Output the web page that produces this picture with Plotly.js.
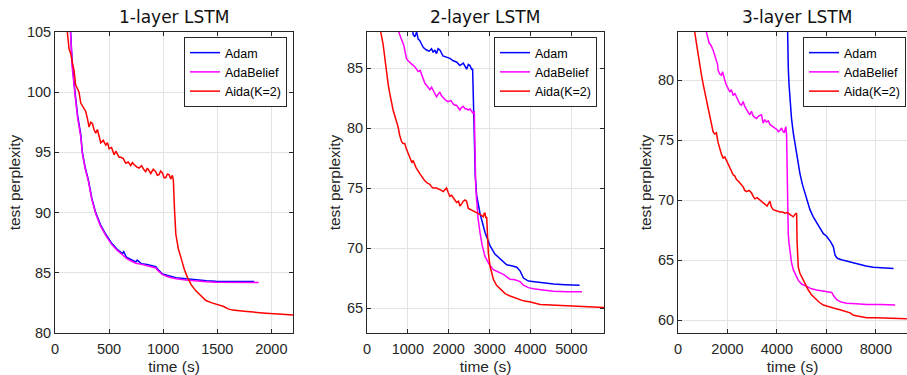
<!DOCTYPE html>
<html>
<head>
<meta charset="utf-8">
<script src="https://cdn.plot.ly/plotly-3.0.1.min.js"></script>
<style>html,body{margin:0;padding:0;background:#fff;}#chart{width:907px;height:375px;}</style>
</head>
<body>
<div id="chart"></div>
<script>
// ---------- Panel 1: 1-layer LSTM ----------
const adam1_x = [115,140,160,185,210,238,253,280,309,340,376,420,469,520,570,623,635,660,700,747,760,800,850,900,932,950,994,1050,1120,1210,1300,1400,1487,1600,1700,1842];
const adam1_y = [110,105,102.3,100,98,96.5,95,93.7,92.7,91.2,90,89,88.2,87.5,87.0,86.6,86.75,86.3,86.1,85.9,86.05,85.75,85.7,85.55,85.5,85.3,84.9,84.75,84.6,84.5,84.4,84.35,84.3,84.3,84.28,84.28];
const adab1_x = [115,140,160,185,210,238,253,280,309,340,376,420,469,520,570,623,660,700,747,800,850,900,932,950,994,1050,1120,1210,1300,1400,1487,1600,1700,1800,1882];
const adab1_y = [110,104.8,102,99.8,97.8,96.3,94.9,93.6,92.6,91.1,89.9,88.9,88.1,87.4,86.9,86.5,86.2,86.0,85.8,85.7,85.6,85.45,85.4,85.2,84.85,84.65,84.5,84.4,84.3,84.25,84.22,84.2,84.2,84.18,84.2];
const aida1_x = [105,114,130,145,160,176,191,222,238,260,284,300,315,330,346,360,376,392,407,423,446,469,485,500,523,546,562,577,592,608,630,654,677,700,715,731,754,777,800,823,838,854,870,885,908,931,946,962,977,993,1008,1023,1039,1054,1070,1085,1094,1098,1105,1117,1140,1163,1195,1225,1260,1302,1350,1395,1450,1518,1560,1600,1642,1750,1850,1950,2100,2200];
const aida1_y = [107,105,103.6,103.2,102.5,101.8,100.6,100.0,99.1,98.8,98.4,97.8,97.1,97.5,97.4,96.9,96.6,96.9,96.3,95.8,96.0,95.6,95.8,95.3,95.4,94.8,95.1,94.9,94.6,94.6,94.5,94.1,94.2,93.9,94.15,94.0,93.8,93.7,93.9,93.55,93.4,93.7,93.5,93.25,93.6,93.4,93.1,93.15,93.45,93.3,92.9,92.9,93.2,93.15,92.8,93.1,92.7,91.5,90.2,88.2,87.0,86.3,85.3,84.6,84.0,83.5,83.1,82.7,82.5,82.3,82.2,82.0,81.9,81.8,81.7,81.65,81.55,81.5];

// ---------- Panel 2: 2-layer LSTM ----------
const adam2_x = [1100,1129,1170,1215,1252,1290,1333,1380,1456,1520,1579,1620,1660,1701,1740,1783,1860,1947,2030,2110,2190,2274,2356,2438,2480,2519,2560,2585,2601,2618,2650,2683,2765,2888,3010,3130,3256,3419,3560,3665,3746,3828,3950,4074,4300,4564,4850,5203];
const adam2_y = [89,87.8,87.6,88.0,87.4,87.3,87.0,86.7,86.5,86.4,86.6,86.3,86.5,86.2,86.6,86.5,86.0,85.9,85.8,85.6,85.5,85.2,85.4,84.9,85.3,85.2,84.9,84.9,82.0,78.5,76.0,74.4,72.9,71.3,70.2,69.5,69.1,68.6,68.5,68.4,68.1,67.5,67.25,67.2,67.1,67.0,66.95,66.9];
const adab2_x = [760,777,843,900,924,965,1006,1047,1100,1170,1210,1252,1300,1374,1420,1497,1540,1580,1620,1660,1701,1740,1783,1820,1865,1930,1988,2050,2110,2150,2192,2240,2274,2310,2356,2400,2438,2479,2520,2560,2601,2626,2642,2660,2683,2720,2765,2820,2888,2980,3092,3200,3337,3501,3620,3746,3828,3950,4074,4300,4564,4900,5260];
const adab2_y = [89,88,87.4,86.9,86.5,85.8,85.6,85.5,85.3,85.1,84.9,84.7,84.8,84.0,83.7,83.4,83.2,83.4,83.1,82.9,82.6,82.8,83.0,82.7,82.5,82.3,82.2,82.3,82.0,81.9,81.9,81.6,81.5,81.7,81.8,81.6,81.6,81.5,81.6,81.4,81.2,81.4,76.8,75.2,74.0,72.4,71.3,70.2,69.3,68.7,68.2,68.0,67.8,67.4,67.35,67.2,66.9,66.7,66.6,66.5,66.4,66.35,66.35];
const aida2_x = [320,335,393,440,474,520,556,600,638,700,761,800,843,880,924,960,1006,1060,1100,1129,1160,1200,1292,1350,1415,1480,1538,1580,1620,1700,1783,1820,1865,1900,1947,1990,2029,2070,2110,2150,2192,2240,2274,2320,2356,2400,2438,2479,2540,2601,2680,2765,2810,2847,2870,2888,2910,2929,2950,2970,3010,3050,3092,3170,3256,3380,3501,3650,3828,4000,4237,4500,4892,5300,5800];
const aida2_y = [89,88,87.0,85.6,84.5,83.6,82.9,82.1,81.5,80.8,80.1,79.4,78.9,78.7,78.7,78.3,77.9,77.5,77.1,77.3,77.0,76.7,76.2,75.9,75.6,75.4,75.3,75.1,75.0,75.0,74.9,74.8,74.7,74.8,75.0,74.6,74.3,74.4,74.2,74.0,73.8,73.9,73.5,73.7,73.9,74.0,73.9,73.3,73.2,73.1,73.0,72.8,72.7,72.6,72.9,72.9,72.5,72.6,71.0,69.6,68.5,67.9,67.4,66.9,66.6,66.2,66.0,65.8,65.6,65.5,65.3,65.25,65.2,65.1,65.05];

// ---------- Panel 3: 3-layer LSTM ----------
const adam3_x = [4400,4418,4440,4458,4490,4526,4590,4661,4730,4796,4860,4931,5030,5134,5230,5336,5470,5607,5740,5877,6000,6080,6180,6282,6320,6350,6420,6485,6650,6823,7100,7363,7600,7903,8300,8714];
const adam3_y = [88,84,82.3,81.1,79.6,78.3,76.8,75.6,74.7,73.9,73.0,72.2,71.3,70.6,69.8,69.2,68.6,68.1,67.6,67.2,67.0,66.8,66.5,66.1,65.8,65.4,65.2,65.1,65.0,64.9,64.75,64.6,64.5,64.4,64.35,64.3];
const adab3_x = [1100,1148,1256,1330,1418,1480,1554,1600,1621,1690,1756,1800,1891,1950,2026,2100,2161,2230,2297,2360,2432,2500,2567,2634,2700,2769,2840,2905,2970,3040,3175,3260,3378,3445,3510,3580,3650,3715,3800,3918,3990,4053,4120,4188,4250,4296,4330,4364,4391,4405,4418,4440,4458,4490,4526,4590,4661,4760,4864,5000,5201,5400,5607,5800,6012,6100,6215,6300,6417,6600,6823,7200,7633,8200,8782];
const adab3_y = [86,84,83.1,82.9,82.5,82.1,81.7,81.3,80.8,80.5,80.4,80.7,80.0,79.6,79.3,79.0,79.2,78.7,78.9,78.6,78.3,78.0,77.9,78.2,77.8,77.5,77.3,77.1,77.4,77.0,76.8,77.0,77.1,76.4,76.7,76.5,76.6,76.3,76.2,76.0,75.9,75.7,75.8,76.0,75.7,75.6,75.9,76.1,75.4,72.5,70.0,68.4,67.2,66.4,65.6,64.8,64.2,63.7,63.3,63.0,62.8,62.6,62.5,62.45,62.4,62.35,62.3,62.0,61.7,61.5,61.4,61.35,61.3,61.3,61.25];
const aida3_x = [640,676,743,810,878,950,1013,1080,1148,1215,1283,1350,1418,1480,1554,1620,1689,1760,1824,1890,1959,2030,2094,2160,2229,2300,2364,2430,2499,2570,2634,2700,2769,2870,2972,3040,3107,3200,3310,3410,3513,3600,3715,3780,3850,3980,4121,4220,4323,4420,4526,4600,4661,4730,4796,4815,4837,4864,4931,5000,5066,5170,5269,5400,5539,5700,5877,6080,6282,6550,6823,6960,7093,7350,7633,8000,8500,9254];
const aida3_y = [86,84,83.1,82.1,81.1,80.4,79.7,79.0,78.3,77.7,77.1,76.4,75.7,75.5,75.6,74.8,74.2,73.8,73.5,73.6,73.3,73.0,72.8,72.4,72.1,72.0,71.7,71.6,71.4,71.2,71.1,70.8,70.7,70.8,70.6,70.3,70.1,70.2,70.0,69.8,69.6,69.5,69.9,69.4,69.2,69.1,69.0,69.0,68.9,68.95,68.8,68.7,68.6,68.8,68.9,66.5,65.0,64.4,63.9,63.6,63.3,62.9,62.5,62.1,61.8,61.5,61.25,61.1,61.0,60.85,60.7,60.6,60.4,60.3,60.2,60.2,60.15,60.1];

// ---------- labels ----------
const titles = ['1-layer LSTM', '2-layer LSTM', '3-layer LSTM'];
const seriesNames = ['Adam', 'AdaBelief', 'Aida(K=2)'];
const xTicks1 = [0, 500, 1000, 1500, 2000];
const yTicks1 = [80, 85, 90, 95, 100, 105];
const xTicks2 = [0, 1000, 2000, 3000, 4000, 5000];
const yTicks2 = [65, 70, 75, 80, 85];
const xTicks3 = [0, 2000, 4000, 6000, 8000];
const yTicks3 = [60, 65, 70, 75, 80];
const xLabel = 'time (s)';
const yLabel = 'test perplexity';

const colors = ['#0000ff', '#ff00ff', '#ff0000'];
const W = 907, H = 375;
const panels = [
  {xs:[adam1_x, adab1_x, aida1_x], ys:[adam1_y, adab1_y, aida1_y], xr:[0,2200], yr:[80,105], xt:xTicks1, yt:yTicks1, px:[55,293], leg:'legend', legX:287},
  {xs:[adam2_x, adab2_x, aida2_x], ys:[adam2_y, adab2_y, aida2_y], xr:[0,5800], yr:[62.92,88], xt:xTicks2, yt:yTicks2, px:[367,604], leg:'legend2', legX:597},
  {xs:[adam3_x, adab3_x, aida3_x], ys:[adam3_y, adab3_y, aida3_y], xr:[0,9260], yr:[58.92,84], xt:xTicks3, yt:yTicks3, px:[678,907], leg:'legend3', legX:906}
];

const font = 'Liberation Sans, Arial, sans-serif';
const axColor = '#262626';
const traces = [];
const layout = {
  width: W, height: H,
  margin: {l:0, r:0, t:0, b:0},
  paper_bgcolor: '#ffffff', plot_bgcolor: '#ffffff',
  font: {family: font, color: axColor, size: 14},
  annotations: []
};
const yDom = [1 - 333/H, 1 - 32/H];
panels.forEach((p, i) => {
  const sfx = i === 0 ? '' : String(i+1);
  for (let k = 0; k < 3; k++) {
    traces.push({
      type: 'scatter', mode: 'lines',
      x: p.xs[k], y: p.ys[k], name: seriesNames[k],
      xaxis: 'x' + sfx, yaxis: 'y' + sfx,
      line: {color: colors[k], width: 1.5},
      legend: p.leg, hoverinfo: 'skip'
    });
  }
  layout['xaxis' + sfx] = {
    domain: [p.px[0]/W, p.px[1]/W], range: p.xr, anchor: 'y' + sfx,
    tickvals: p.xt, ticktext: p.xt.map(String),
    showgrid: true, gridcolor: '#e3e3e3', gridwidth: 1, zeroline: false,
    showline: true, linecolor: axColor, linewidth: 1, mirror: 'ticks',
    ticks: 'inside', ticklen: 4, tickcolor: axColor, ticklabelstandoff: 3,
    tickfont: {family: font, size: 14.5, color: axColor},
    title: {text: xLabel, font: {family: font, size: 15.5, color: axColor}, standoff: 6}
  };
  layout['yaxis' + sfx] = {
    domain: yDom, range: p.yr, anchor: 'x' + sfx,
    tickvals: p.yt, ticktext: p.yt.map(String),
    showgrid: true, gridcolor: '#e3e3e3', gridwidth: 1, zeroline: false,
    showline: true, linecolor: axColor, linewidth: 1, mirror: i === 2 ? false : 'ticks',
    ticks: 'inside', ticklen: 4, tickcolor: axColor,
    tickfont: {family: font, size: 14.5, color: axColor},
    title: {text: yLabel, font: {family: font, size: 15.5, color: axColor}, standoff: 2}
  };
  layout[p.leg] = {
    x: p.legX/W, y: 1 - 37/H, xanchor: 'right', yanchor: 'top',
    xref: 'paper', yref: 'paper',
    bgcolor: '#ffffff', bordercolor: axColor, borderwidth: 1,
    font: {family: font, size: 12.5, color: '#000000'},
    itemwidth: 30, tracegroupgap: 0
  };
  const cx = i === 2 ? 797 : (p.px[0] + p.px[1]) / 2;
  layout.annotations.push({
    text: titles[i], xref: 'paper', yref: 'paper', x: cx/W, y: 1 - 17/H,
    xanchor: 'center', yanchor: 'middle', showarrow: false,
    font: {family: 'DejaVu Sans, sans-serif', size: 17, color: '#111111'}
  });
});

Plotly.newPlot('chart', traces, layout, {staticPlot: true, displayModeBar: false});
</script>
</body>
</html>
